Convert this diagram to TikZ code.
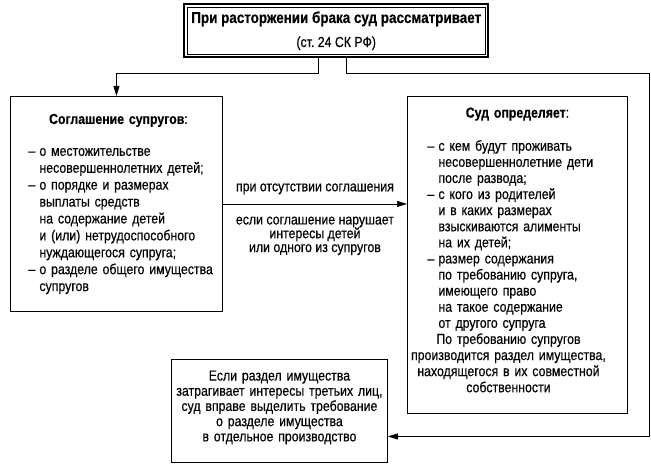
\documentclass[tikz,border=0pt]{standalone}
\usepackage{fontspec}
\setmainfont{Liberation Sans}[FakeStretch=0.85, FakeBold=0.4]
\usetikzlibrary{arrows.meta}
\usetikzlibrary{positioning}
\frenchspacing

\newcommand{\dashline}{\par\hangindent=11pt\hangafter=1\noindent\makebox[11pt][l]{–}}
\newcommand{\padbelow}[1]{\par\kern#1\hrule height0pt width0pt}

\begin{document}
\begin{tikzpicture}[
	x=1pt, y=-1pt,
	box/.style={
		draw=black,
		line width=0.9pt,
		anchor=north west,
		inner ysep=0pt
		},
	link/.style={
		line width=0.7pt,
		-{Triangle[length=10pt,width=6pt]}
	},
	every node/.style={font=\fontsize{14.5}{16.5}\selectfont}
]

\useasboundingbox (0,0) rectangle (651,476);

% Title
\node [box, line width=2.4pt, minimum width=304pt, minimum height=53pt, align=center, font=\fontsize{14.5}{24}\selectfont] (title) at (183,3) {{\fontsize{15.8}{24}\selectfont\bfseries При расторжении брака суд рассматривает}\\(ст. 24 СК РФ)};
\draw [line width=0.8pt] ([shift={(4pt,-4pt)}]title.north west) rectangle ([shift={(-4pt,4pt)}]title.south east);

% Agreement of the spouses
\node [box, text width=200pt, inner xsep=6pt, minimum height=215pt, font=\fontsize{14.5}{16.9}\selectfont] (agreement) at (10,96) {%
	\kern4pt
	{\centering\textbf{Соглашение супругов}:\par}
	\vspace{15pt}
	\rightskip=0pt plus 1fil\leftskip=12pt
	\dashline о местожительстве\newline несовершеннолетних детей;
	\dashline о порядке и размерах\newline выплаты средств\newline на содержание детей\newline и (или) нетрудоспособного\newline нуждающегося супруга;
	\dashline о разделе общего имущества\newline супругов\par};

% Court decides
\node [box, text width=214pt, inner xsep=3pt, minimum height=317pt, font=\fontsize{14.5}{16.1}\selectfont] (court) at (407,96) {%
	{\centering\textbf{Суд определяет}:\par}
	\vspace{17pt}
	{\rightskip=0pt plus 1fil\leftskip=17pt
	\dashline с кем будут проживать\newline несовершеннолетние дети\newline после развода;
	\dashline с кого из родителей\newline и в каких размерах\newline взыскиваются алименты\newline на их детей;
	\dashline размер содержания\newline по требованию супруга,\newline имеющего право\newline на такое содержание\newline от другого супруга\par}
	{\centering\rightskip=18pt plus 1fil По требованию супругов\\производится раздел имущества,\\находящегося в их совместной\\собственности\par}
	\padbelow{10pt}};

% Separate proceedings
\node [box, text width=214pt, inner xsep=1pt, minimum height=103pt, font=\fontsize{14.5}{15.2}\selectfont] (separate) at (171,359) {%
	{\centering Если раздел имущества\\затрагивает интересы третьих лиц,\\суд вправе выделить требование\\о разделе имущества\\в отдельное производство\par}
	\padbelow{7pt}};

% Connectors
\draw [link] ([xshift=-18pt]title.south) -- ++(0,15) -| (agreement.north);
\draw [link] ([xshift=10pt]title.south) -- ++(0,15) -| ([xshift=21pt]court.east) |- ([yshift=-25.5pt]separate.east);
\draw [link] (agreement.east) -- (agreement.east -| court.west)
	node [above=6pt, midway] (absent) {при отсутствии соглашения}
	node [below=9pt, midway, align=center, font=\fontsize{14.5}{13.8}\selectfont] (violates) {если соглашение нарушает\\интересы детей\\или одного из супругов};
\end{tikzpicture}
\end{document}
